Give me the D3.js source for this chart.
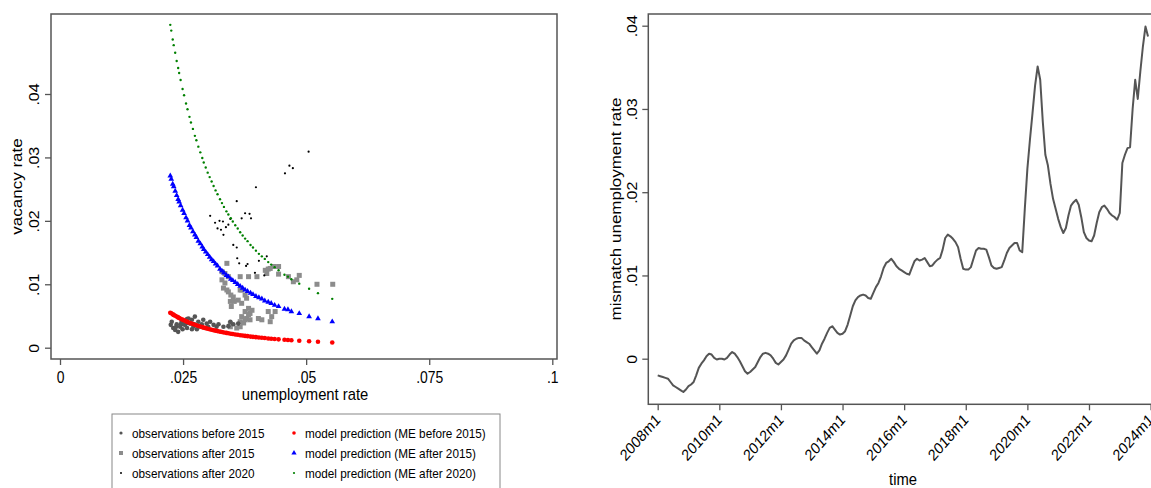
<!DOCTYPE html>
<html>
<head>
<meta charset="utf-8">
<script src="https://cdn.jsdelivr.net/npm/d3@7"></script>
<style>
body { margin: 0; background: #fff; }
svg text { font-family: "Liberation Sans", Arial, sans-serif; fill: #000; }
</style>
</head>
<body>
<div id="chart"></div>
<script>
// ---- left panel data: [unemployment rate, vacancy rate] ----
var obsBefore2015 = [
    [0.0225,0.0036],[0.0227,0.0041],[0.0230,0.0031],[0.0234,0.0028],[0.0236,0.0033],
    [0.0237,0.0037],[0.0240,0.0025],[0.0244,0.0033],[0.0245,0.0037],[0.0247,0.0041],
    [0.0249,0.0029],[0.0251,0.0037],[0.0254,0.0036],[0.0258,0.0031],[0.0258,0.0045],
    [0.0259,0.0039],[0.0261,0.0046],[0.0264,0.0038],[0.0268,0.0044],[0.0268,0.0029],
    [0.0271,0.0033],[0.0273,0.0037],[0.0274,0.0049],[0.0278,0.0029],[0.0281,0.0041],
    [0.0285,0.0033],[0.0288,0.0037],[0.0291,0.0044],[0.0298,0.0038],[0.0301,0.0033],
    [0.0305,0.0041],[0.0312,0.0036],[0.0318,0.0033],[0.0322,0.0037],[0.0332,0.0033],
    [0.0342,0.0034],[0.0346,0.0041],[0.0352,0.0037],[0.0362,0.0038]
];
var obsAfter2015 = [
    [0.0339,0.0133],[0.0329,0.0120],[0.0335,0.0117],[0.0342,0.0112],[0.0329,0.0107],
    [0.0335,0.0102],[0.0332,0.0094],[0.0339,0.0091],[0.0342,0.0088],[0.0347,0.0083],
    [0.0352,0.0080],[0.0346,0.0073],[0.0348,0.0065],[0.0354,0.0073],[0.0362,0.0075],
    [0.0369,0.0070],[0.0379,0.0078],[0.0383,0.0062],[0.0376,0.0057],[0.0386,0.0054],
    [0.0369,0.0049],[0.0379,0.0046],[0.0366,0.0041],[0.0373,0.0039],[0.0386,0.0044],
    [0.0390,0.0059],[0.0403,0.0046],[0.0410,0.0044],[0.0423,0.0057],[0.0437,0.0057],
    [0.0427,0.0041],[0.0430,0.0049],[0.0346,0.0033],[0.0359,0.0031],[0.0346,0.0038],
    [0.0366,0.0033],[0.0376,0.0044],[0.0383,0.0052],[0.0366,0.0112],[0.0383,0.0112],
    [0.0369,0.0091],[0.0366,0.0091],[0.0376,0.0083],[0.0400,0.0112],[0.0420,0.0117],
    [0.0417,0.0122],[0.0423,0.0124],[0.0427,0.0125],[0.0434,0.0128],[0.0444,0.0128],
    [0.0444,0.0116],[0.0464,0.0112],[0.0474,0.0104],[0.0481,0.0107],[0.0486,0.0114],
    [0.0522,0.0100],[0.0554,0.0100]
];
var obsAfter2020 = [
    [0.0505,0.0309],[0.0457,0.0275],[0.0466,0.0287],[0.0473,0.0283],[0.0398,0.0253],
    [0.0359,0.0231],[0.0376,0.0212],[0.0385,0.0211],[0.0369,0.0204],[0.0388,0.0204],
    [0.0305,0.0208],[0.0315,0.0197],[0.0324,0.0200],[0.0331,0.0199],[0.0320,0.0188],
    [0.0327,0.0186],[0.0337,0.0190],[0.0342,0.0194],[0.0332,0.0178],[0.0346,0.0203],
    [0.0352,0.0162],[0.0359,0.0158],[0.0360,0.0141],[0.0364,0.0133],[0.0381,0.0132],
    [0.0378,0.0129],[0.0404,0.0137],[0.0396,0.0118],[0.0420,0.0144],[0.0415,0.0114]
];

// model predictions, read at these unemployment rates
var predU = [
    0.0224,0.0226,0.0229,0.0231,0.0234,0.0237,0.0240,0.0242,0.0245,0.0249,
    0.0252,0.0256,0.0259,0.0263,0.0266,0.0270,0.0274,0.0277,0.0281,0.0285,
    0.0289,0.0292,0.0296,0.0300,0.0304,0.0308,0.0312,0.0316,0.0320,0.0325,
    0.0329,0.0333,0.0338,0.0342,0.0347,0.0351,0.0356,0.0361,0.0366,0.0371,
    0.0376,0.0381,0.0387,0.0392,0.0398,0.0404,0.0410,0.0416,0.0423,0.0429,
    0.0436,0.0444,0.0456,0.0463,0.0470,0.0486,0.0506,0.0524,0.0553
];
var predBefore2015 = [
    0.00551,0.00542,0.00526,0.00517,0.00504,0.00490,0.00478,0.00469,0.00457,0.00442,
    0.00431,0.00417,0.00407,0.00394,0.00384,0.00374,0.00362,0.00354,0.00343,0.00334,
    0.00324,0.00316,0.00308,0.00299,0.00291,0.00284,0.00276,0.00269,0.00262,0.00253,
    0.00247,0.00240,0.00233,0.00227,0.00221,0.00216,0.00209,0.00204,0.00197,0.00192,
    0.00186,0.00182,0.00175,0.00171,0.00166,0.00160,0.00156,0.00152,0.00146,0.00142,
    0.00138,0.00132,0.00125,0.00121,0.00117,0.00109,0.00101,0.00093,0.00083
];
var predAfter2015 = [
    0.0271,0.0266,0.0258,0.0254,0.0247,0.0240,0.0234,0.0230,0.0224,0.0217,
    0.0212,0.0205,0.0200,0.0193,0.0189,0.0183,0.0178,0.0174,0.0168,0.0164,
    0.0159,0.0155,0.0151,0.0147,0.0143,0.0139,0.0136,0.0132,0.0129,0.0124,
    0.0121,0.0118,0.0114,0.0112,0.0108,0.0106,0.0103,0.0100,0.0097,0.0094,
    0.0091,0.0089,0.0086,0.0084,0.0081,0.0079,0.0077,0.0074,0.0072,0.0070,
    0.0067,0.0065,0.0061,0.0060,0.0057,0.0054,0.0049,0.0046,0.0041
];
var predAfter2020 = [
    0.0509,0.0500,0.0486,0.0477,0.0465,0.0452,0.0441,0.0433,0.0422,0.0408,
    0.0398,0.0385,0.0376,0.0364,0.0355,0.0345,0.0334,0.0327,0.0317,0.0308,
    0.0299,0.0292,0.0284,0.0276,0.0269,0.0262,0.0255,0.0248,0.0242,0.0234,
    0.0228,0.0222,0.0215,0.0210,0.0204,0.0199,0.0193,0.0188,0.0182,0.0177,
    0.0172,0.0168,0.0162,0.0158,0.0153,0.0148,0.0144,0.0140,0.0135,0.0131,
    0.0127,0.0122,0.0115,0.0112,0.0108,0.0101,0.0093,0.0086,0.0077
];
var xTicksLeft = [0, 0.025, 0.05, 0.075, 0.1];
var yTicks = [0, 0.01, 0.02, 0.03, 0.04];
var legendLabels = [
    "observations before 2015", "observations after 2015", "observations after 2020",
    "model prediction (ME before 2015)", "model prediction (ME after 2015)", "model prediction (ME after 2020)"
];

// ---- right panel data: monthly mismatch unemployment rate, 2008m1 onwards ----
var startYear = 2008;
var mismatch = [
    -0.0020,-0.0021,-0.0022,-0.0023,-0.0024,-0.0028,-0.0032,-0.0034,-0.0036,-0.0038,-0.0040,-0.0037,
    -0.0033,-0.0031,-0.0028,-0.0020,-0.0011,-0.0006,-0.0002,0.0003,0.0006,0.0005,0.0001,-0.0001,
    0.0000,0.0000,-0.0001,0.0001,0.0005,0.0008,0.0006,0.0002,-0.0003,-0.0009,-0.0015,-0.0018,
    -0.0016,-0.0013,-0.0010,-0.0004,0.0002,0.0006,0.0007,0.0006,0.0004,0.0000,-0.0005,-0.0007,
    -0.0004,-0.0001,0.0004,0.0011,0.0018,0.0022,0.0024,0.0025,0.0025,0.0022,0.0020,0.0018,
    0.0014,0.0010,0.0006,0.0010,0.0018,0.0024,0.0031,0.0037,0.0039,0.0035,0.0031,0.0029,
    0.0030,0.0033,0.0041,0.0052,0.0063,0.0070,0.0074,0.0076,0.0077,0.0076,0.0073,0.0072,
    0.0079,0.0086,0.0091,0.0099,0.0109,0.0115,0.0117,0.0120,0.0116,0.0111,0.0108,0.0106,
    0.0104,0.0102,0.0101,0.0109,0.0117,0.0120,0.0118,0.0119,0.0121,0.0116,0.0111,0.0112,
    0.0116,0.0119,0.0121,0.0131,0.0145,0.0149,0.0147,0.0144,0.0140,0.0134,0.0120,0.0108,
    0.0107,0.0107,0.0110,0.0120,0.0130,0.0133,0.0132,0.0132,0.0131,0.0122,0.0112,0.0109,
    0.0108,0.0109,0.0110,0.0118,0.0127,0.0133,0.0136,0.0139,0.0139,0.0130,0.0128,0.0180,
    0.0228,0.0263,0.0295,0.0328,0.0351,0.0335,0.0285,0.0245,0.0232,0.0210,0.0192,0.0180,
    0.0168,0.0158,0.0151,0.0157,0.0172,0.0184,0.0188,0.0191,0.0185,0.0170,0.0152,0.0145,
    0.0142,0.0141,0.0148,0.0163,0.0176,0.0182,0.0184,0.0180,0.0175,0.0172,0.0170,0.0167,
    0.0175,0.0235,0.0245,0.0253,0.0254,0.0300,0.0335,0.0312,0.0345,0.0375,0.0399,0.0387
];
var timeTickLabels = ["2008m1","2010m1","2012m1","2014m1","2016m1","2018m1","2020m1","2022m1","2024m1"];

// the source image is squeezed horizontally, so text is too
var SQ = 0.87;
function place(sel, x, y, angle) {
    sel.attr("x", 0).attr("y", 0).attr("dy", null)
        .attr("transform", "translate(" + x + "," + y + ") scale(" + SQ + ",1)" + (angle ? " rotate(" + angle + ")" : ""));
}
var fmt = function(v) { return v === 0 ? "0" : String(+v.toFixed(4)).replace(/^0\./, "."); };

var svg = d3.select("#chart").append("svg")
    .attr("width", 1151)
    .attr("height", 488);

// ================= left panel =================
var xL = d3.scaleLinear().domain([0, 0.1]).range([60, 552.3]);
var yL = d3.scaleLinear().domain([0, 0.04]).range([347.7, 94]);

var left = svg.append("g");

left.append("rect")
    .attr("x", 51).attr("y", 14)
    .attr("width", 506).attr("height", 345)
    .style("fill", "none").style("stroke", "#555").style("stroke-width", 1.5);

var axL = left.append("g")
    .attr("transform", "translate(0,359)")
    .call(d3.axisBottom(xL).tickValues(xTicksLeft).tickSize(6).tickFormat(fmt));
axL.select(".domain").remove();
axL.selectAll("line").style("stroke", "#555").style("stroke-width", 1.3);
axL.selectAll("text").style("font-size", "16px").each(function() {
    place(d3.select(this), 0, 24);
});

var ayL = left.append("g")
    .attr("transform", "translate(51,0)")
    .call(d3.axisLeft(yL).tickValues(yTicks).tickSize(6).tickFormat(fmt));
ayL.select(".domain").remove();
ayL.selectAll("line").style("stroke", "#555").style("stroke-width", 1.3);
ayL.selectAll("text").style("font-size", "16px").attr("text-anchor", "middle").each(function() {
    place(d3.select(this), -12.5, 0, -90);
});
[axL, ayL].forEach(function(a) { a.attr("font-family", null).attr("font-size", null); });

left.append("text").text("unemployment rate")
    .style("font-size", "17px").attr("text-anchor", "middle")
    .call(place, 305, 400);
left.append("text").text("vacancy rate")
    .style("font-size", "17px").attr("text-anchor", "middle")
    .call(place, 22, 186.5, -90);

// observations
left.selectAll(".obs15").data(obsAfter2015).enter().append("rect")
    .attr("class", "obs15")
    .attr("x", function(d) { return xL(d[0]) - 2.5; })
    .attr("y", function(d) { return yL(d[1]) - 2.5; })
    .attr("width", 5).attr("height", 5)
    .style("fill", "#8c8c8c");

left.selectAll(".obs08").data(obsBefore2015).enter().append("circle")
    .attr("class", "obs08")
    .attr("cx", function(d) { return xL(d[0]); })
    .attr("cy", function(d) { return yL(d[1]); })
    .attr("r", 2.3)
    .style("fill", "#555");

left.selectAll(".obs20").data(obsAfter2020).enter().append("circle")
    .attr("class", "obs20")
    .attr("cx", function(d) { return xL(d[0]); })
    .attr("cy", function(d) { return yL(d[1]); })
    .attr("r", 1.1)
    .style("fill", "#000");

// model predictions
var tri = d3.symbol().type(d3.symbolTriangle).size(14);

left.selectAll(".predR").data(predBefore2015).enter().append("circle")
    .attr("class", "predR")
    .attr("cx", function(d, i) { return xL(predU[i]); })
    .attr("cy", function(d) { return yL(d); })
    .attr("r", 2.3)
    .style("fill", "#ff0000");

left.selectAll(".predB").data(predAfter2015).enter().append("path")
    .attr("class", "predB")
    .attr("d", tri)
    .attr("transform", function(d, i) { return "translate(" + xL(predU[i]) + "," + yL(d) + ")"; })
    .style("fill", "#0000ff");

left.selectAll(".predG").data(predAfter2020).enter().append("circle")
    .attr("class", "predG")
    .attr("cx", function(d, i) { return xL(predU[i]); })
    .attr("cy", function(d) { return yL(d); })
    .attr("r", 1.2)
    .style("fill", "#008000");

// legend
var legend = svg.append("g");
legend.append("rect")
    .attr("x", 112).attr("y", 414)
    .attr("width", 388).attr("height", 80)
    .style("fill", "none").style("stroke", "#888").style("stroke-width", 1);

var legItems = legend.selectAll(".legend")
    .data(legendLabels)
    .enter().append("g")
        .attr("class", "legend")
        .attr("transform", function(d, i) {
            return "translate(" + (i < 3 ? 121 : 294) + "," + (433 + (i % 3) * 20) + ")";
        });

legItems.each(function(d, i) {
    var g = d3.select(this);
    if (i === 0) g.append("circle").attr("r", 1.6).style("fill", "#555");
    if (i === 1) g.append("rect").attr("x", -2).attr("y", -2).attr("width", 4).attr("height", 4).style("fill", "#8c8c8c");
    if (i === 2) g.append("circle").attr("r", 1).style("fill", "#000");
    if (i === 3) g.append("circle").attr("r", 1.8).style("fill", "#ff0000");
    if (i === 4) g.append("path").attr("d", d3.symbol().type(d3.symbolTriangle).size(12)()).style("fill", "#0000ff");
    if (i === 5) g.append("circle").attr("r", 1.1).style("fill", "#008000");
});

legItems.append("text")
    .text(function(d) { return d; })
    .style("font-size", "13.5px")
    .each(function() { place(d3.select(this), 11, 5); });

// ================= right panel =================
var xR = d3.scaleLinear().domain([0, 192]).range([657.7, 1150.6]);
var yR = d3.scaleLinear().domain([0, 0.04]).range([358.7, 25.7]);

var right = svg.append("g");

right.append("rect")
    .attr("x", 648.3).attr("y", 14)
    .attr("width", 540).attr("height", 390.3)
    .style("fill", "none").style("stroke", "#555").style("stroke-width", 1.5);

var timeTickValues = timeTickLabels.map(function(s) { return (+s.slice(0, 4) - startYear) * 12; });

var axR = right.append("g")
    .attr("transform", "translate(0,404.3)")
    .call(d3.axisBottom(xR).tickValues(timeTickValues).tickSize(6)
        .tickFormat(function(d, i) { return timeTickLabels[i]; }));
axR.select(".domain").remove();
axR.selectAll("line").style("stroke", "#555").style("stroke-width", 1.3);
axR.selectAll("text").style("font-size", "16px").attr("text-anchor", "end").each(function() {
    place(d3.select(this), 3, 16.5, -45);
});

var ayR = right.append("g")
    .attr("transform", "translate(648.3,0)")
    .call(d3.axisLeft(yR).tickValues(yTicks).tickSize(6).tickFormat(fmt));
ayR.select(".domain").remove();
ayR.selectAll("line").style("stroke", "#555").style("stroke-width", 1.3);
ayR.selectAll("text").style("font-size", "16px").attr("text-anchor", "middle").each(function() {
    place(d3.select(this), -11, 0, -90);
});
[axR, ayR].forEach(function(a) { a.attr("font-family", null).attr("font-size", null); });

right.append("text").text("time")
    .style("font-size", "17px").attr("text-anchor", "middle")
    .call(place, 903, 485);
right.append("text").text("mismatch unemployment rate")
    .style("font-size", "17px").attr("text-anchor", "middle")
    .call(place, 621, 209, -90);

var line = d3.line()
    .x(function(d, i) { return xR(i); })
    .y(function(d) { return yR(d); });

right.append("path")
    .datum(mismatch)
    .attr("d", line)
    .style("fill", "none")
    .style("stroke", "#555")
    .style("stroke-width", 2)
    .style("stroke-linejoin", "round");
</script>
</body>
</html>
